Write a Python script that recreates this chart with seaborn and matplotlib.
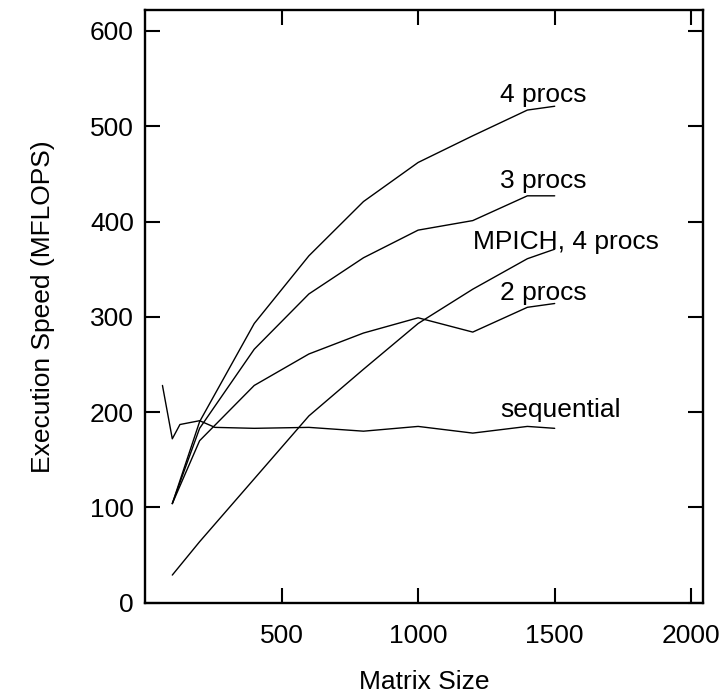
import matplotlib
matplotlib.use("Agg")
import matplotlib.pyplot as plt
import seaborn as sns
import pandas as pd

sns.set_theme(style="white")
plt.rcParams['font.family'] = ['Liberation Sans', 'DejaVu Sans']
plt.rcParams['text.color'] = 'black'
plt.rcParams['axes.labelcolor'] = 'black'

seq_x = [64, 100, 128, 200, 256, 400, 600, 800, 1000, 1200, 1400, 1500]
seq_y = [228, 172, 187, 191, 184, 183, 184, 180, 185, 178, 185, 183]

par_x = [100, 200, 400, 600, 800, 1000, 1200, 1400, 1500]
p2_y = [104, 170, 228, 261, 283, 299, 284, 310, 314]
p3_y = [104, 183, 266, 324, 362, 391, 401, 427, 427]
p4_y = [104, 190, 293, 364, 421, 462, 490, 517, 521]
mpich_y = [29, 64, 130, 196, 245, 293, 329, 361, 371]

labels = ["4 procs", "3 procs", "MPICH, 4 procs", "2 procs", "sequential"]
label_x = [1300, 1300, 1200, 1300, 1300]
label_y = [533, 443, 379, 325, 202]

frames = [pd.DataFrame({"size": seq_x, "speed": seq_y, "series": "sequential"})]
for name, ys in [("2 procs", p2_y), ("3 procs", p3_y), ("4 procs", p4_y), ("MPICH, 4 procs", mpich_y)]:
    frames.append(pd.DataFrame({"size": par_x, "speed": ys, "series": name}))
df = pd.concat(frames, ignore_index=True)

fig = plt.figure(figsize=(7.22, 6.95), dpi=100)
ax = fig.add_axes([0.2008, 0.1328, 0.7729, 0.8528])

sns.lineplot(data=df, x="size", y="speed", units="series", estimator=None,
             color="black", linewidth=1.0, sort=False, ax=ax, legend=False)

for t, xx, yy in zip(labels, label_x, label_y):
    ax.text(xx, yy, t, fontsize=19, ha="left", va="center", color="black")

ax.set_xlim(0, 2043)
ax.set_ylim(0, 622)
ax.set_xticks([500, 1000, 1500, 2000])
ax.set_yticks([0, 100, 200, 300, 400, 500, 600])
ax.tick_params(direction="in", length=11, width=1.5, top=True, right=True,
               bottom=True, left=True, labelsize=19, colors="black")
ax.tick_params(axis="y", pad=8)
ax.tick_params(axis="x", pad=15)
for s in ax.spines.values():
    s.set_visible(True)
    s.set_linewidth(1.7)
    s.set_color("black")
ax.set_xlabel("Matrix Size", fontsize=19, labelpad=16)
ax.set_ylabel("Execution Speed (MFLOPS)", fontsize=19, labelpad=25)
fig.savefig("out.png", dpi=100)
